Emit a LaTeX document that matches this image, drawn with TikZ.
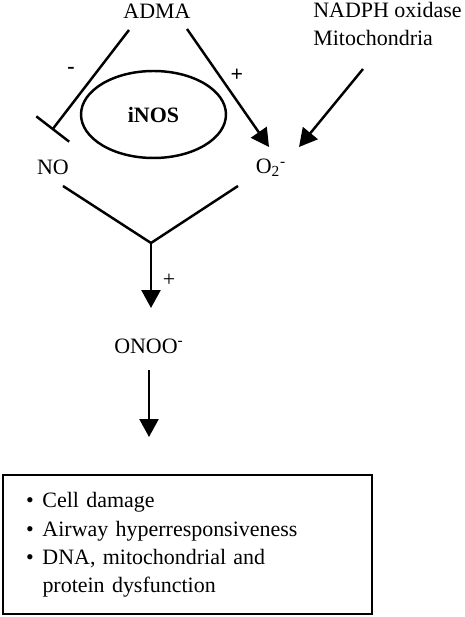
\documentclass[tikz,border=0pt]{standalone}
\usepackage{fontspec}
\setmainfont{Liberation Serif}
\usetikzlibrary{arrows.meta, shapes.geometric}
\tikzset{
every node/.style={font=\fontsize{12.5}{16}\selectfont},
link/.style={line width=1.4pt},
arr/.style={link, -{Triangle[length=0.36cm, width=0.38cm]}},
inhib/.style={link, -{Bar[width=0.83cm, line width=1.4pt]}},
}

\begin{document}
\begin{tikzpicture}[x=0.02cm, y=-0.02cm]
    \useasboundingbox (0,0) rectangle (465,617);

    \node (adma) at (157,11) {ADMA};
    \node[align=left, anchor=west, inner sep=0pt] (src) at (313,24) {NADPH oxidase\\Mitochondria};
    \node[ellipse, draw, line width=1.4pt, minimum width=2.9cm, minimum height=1.74cm] (inos) at (153.5,114.5) {\textbf{iNOS}};
    \node (no) at (53,167) {NO};
    \node (o2) at (271,168) {O\textsubscript{2}\textsuperscript{-}};
    \node (onoo) at (149,346) {ONOO\textsuperscript{-}};
    \node[draw, line width=1.2pt, text width=6.46cm, inner xsep=0.46cm, minimum height=2.78cm, align=left] (fx) at (187.5,544.5)
        {\begin{tabular}{@{}l@{\hspace{0.4em}}l@{}}
        \textbullet & Cell damage\\
        \textbullet & Airway hyperresponsiveness\\
        \textbullet & DNA, mitochondrial and\\
                    & protein dysfunction
        \end{tabular}};

    %ends
    \coordinate (a1) at (129,30);
    \coordinate (a2) at (52,130);
    \coordinate (b1) at (187,29);
    \coordinate (b2) at (269,147);
    \coordinate (c1) at (363,69);
    \coordinate (c2) at (299,147);
    \coordinate (vl) at (63,186);
    \coordinate (vr) at (238,186);
    \coordinate (vj) at (151,243);
    \coordinate (vt) at (151,308);
    \coordinate (d1) at (149,370);
    \coordinate (d2) at (149,437);

    %lables
    \node at (71,70) {\textbf{-}};
    \node at (237,75) {\textbf{+}};
    \node at (169,280) {+};

    \draw[inhib] (a1)--(a2);
    \draw[arr] (b1)--(b2);
    \draw[arr] (c1)--(c2);
    \draw[link] (vl)--(vj)--(vr);
    \draw[arr] (vj)--(vt);
    \draw[arr] (d1)--(d2);
\end{tikzpicture}
\end{document}
